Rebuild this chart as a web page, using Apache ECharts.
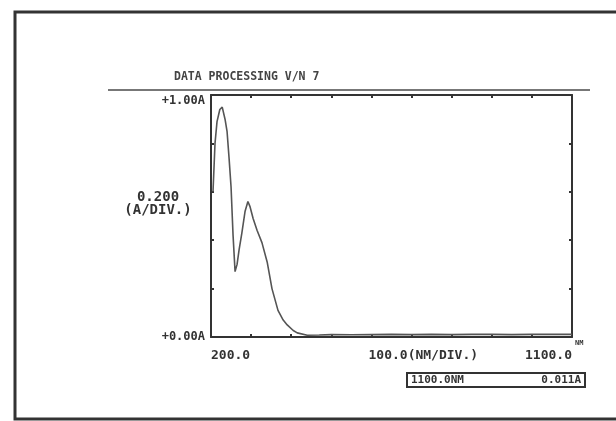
<!DOCTYPE html>
<html>
<head>
<meta charset="utf-8">
<script src="https://cdn.jsdelivr.net/npm/echarts@6/dist/echarts.min.js"></script>
<style>html,body{margin:0;padding:0;background:#fff;}#c{width:616px;height:421px;}</style>
</head>
<body>
<div id="c"></div>
<script>
// ---- data ----
const title = 'DATA PROCESSING V/N 7';
const wavelengthNm = [205, 210, 215, 222, 228, 235, 240, 245, 250, 255, 260, 265, 270, 277, 285, 292, 297, 305, 315, 327, 340, 352, 367, 380, 390, 405, 415, 440, 470, 500, 550, 600, 650, 700, 750, 800, 850, 900, 950, 1000, 1050, 1100];
const absorbance   = [0.60, 0.80, 0.89, 0.94, 0.95, 0.90, 0.85, 0.74, 0.62, 0.42, 0.27, 0.30, 0.36, 0.43, 0.52, 0.56, 0.54, 0.49, 0.44, 0.39, 0.31, 0.20, 0.11, 0.07, 0.05, 0.027, 0.017, 0.007, 0.008, 0.010, 0.009, 0.010, 0.011, 0.010, 0.011, 0.010, 0.011, 0.011, 0.010, 0.011, 0.011, 0.011];
const xTickLabels = {200: '200.0', 1100: '1100.0'};
const yTickLabels = {0: '+0.00A', 1: '+1.00A'};
const xScaleLabel = '100.0(NM/DIV.)';
const yScaleLabel = ['0.200', '(A/DIV.)'];
const xUnit = 'NM';
const readoutNm = '1100.0NM';
const readoutAbs = '0.011A';

const INK = '#333';
const FONT = '"DejaVu Sans Mono", "Liberation Mono", monospace';

const chart = echarts.init(document.getElementById('c'), null, {renderer: 'canvas'});
const seriesData = wavelengthNm.map((w, i) => [w, absorbance[i]]);

const tickStyle = {show: true, inside: true, length: 3, lineStyle: {color: INK, width: 2}};
const lineStyle = {color: INK, width: 2};

chart.setOption({
  animation: false,
  backgroundColor: '#ffffff',
  grid: {left: 211, top: 95, width: 361, height: 242, containLabel: false},
  xAxis: [{
    type: 'value', min: 200, max: 1100, interval: 100, position: 'bottom',
    axisLine: {show: true, onZero: false, lineStyle},
    axisTick: tickStyle,
    splitLine: {show: false},
    axisLabel: {
      show: true, margin: 12, color: INK, fontFamily: FONT, fontWeight: 'bold', fontSize: 13,
      alignMinLabel: 'left', alignMaxLabel: 'right',
      formatter: v => xTickLabels[v] || ''
    }
  }, {
    type: 'value', min: 200, max: 1100, interval: 100, position: 'top',
    axisLine: {show: true, onZero: false, lineStyle},
    axisTick: tickStyle, axisLabel: {show: false}, splitLine: {show: false}
  }],
  yAxis: [{
    type: 'value', min: 0, max: 1, interval: 0.2, position: 'left',
    axisLine: {show: true, onZero: false, lineStyle},
    axisTick: tickStyle,
    splitLine: {show: false},
    axisLabel: {
      show: true, margin: 6, color: INK, fontFamily: FONT, fontWeight: 'bold', fontSize: 12,
      verticalAlignMaxLabel: 'top',
      formatter: v => yTickLabels[Math.round(v * 100) / 100] || ''
    }
  }, {
    type: 'value', min: 0, max: 1, interval: 0.2, position: 'right',
    axisLine: {show: true, onZero: false, lineStyle},
    axisTick: tickStyle, axisLabel: {show: false}, splitLine: {show: false}
  }],
  series: [{
    type: 'line', data: seriesData, xAxisIndex: 0, yAxisIndex: 0,
    showSymbol: false, smooth: false,
    lineStyle: {color: '#555', width: 1.6}
  }]
});

// annotations placed relative to the axes
const pBot = chart.convertToPixel({xAxisIndex: 0, yAxisIndex: 0}, [1100, 0]);
const pTop = chart.convertToPixel({xAxisIndex: 0, yAxisIndex: 0}, [200, 1]);
const pMid = chart.convertToPixel({xAxisIndex: 0, yAxisIndex: 0}, [650, 0]);
const pYName = chart.convertToPixel({xAxisIndex: 0, yAxisIndex: 0}, [200, 0.55]);

chart.setOption({
  graphic: [
    // outer frame of the photographed sheet
    {type: 'rect', shape: {x: 15, y: 12, width: 700, height: 407}, style: {fill: 'none', stroke: INK, lineWidth: 3}, z: 10},
    // title and underline
    {type: 'text', x: 174, y: 71, style: {text: title, fill: '#444', font: 'bold 11.5px ' + FONT}, z: 10},
    {type: 'line', shape: {x1: 108, y1: pTop[1] - 5, x2: 590, y2: pTop[1] - 5}, style: {stroke: '#777', lineWidth: 2}, z: 10},
    // y scale label
    {type: 'text', x: pYName[0] - 53, y: pYName[1] - 13, style: {text: yScaleLabel.join('\n'), fill: INK, font: 'bold 14px ' + FONT, align: 'center', lineHeight: 13}, z: 10},
    // x scale label
    {type: 'text', x: pMid[0] - 23, y: pBot[1] + 12, style: {text: xScaleLabel, fill: INK, font: 'bold 13px ' + FONT}, z: 10},
    // unit "NM" over the end label
    {type: 'text', x: pBot[0] + 3, y: pBot[1] + 3, style: {text: xUnit, fill: INK, font: 'bold 7px ' + FONT}, z: 10},
    // readout box
    {type: 'rect', shape: {x: 407, y: 373, width: 178, height: 14}, style: {fill: '#fff', stroke: INK, lineWidth: 2}, z: 10},
    {type: 'text', x: 411, y: 375, style: {text: readoutNm, fill: INK, font: 'bold 11px ' + FONT}, z: 11},
    {type: 'text', x: 581, y: 375, style: {text: readoutAbs, fill: INK, font: 'bold 11px ' + FONT, align: 'right'}, z: 11}
  ]
});
</script>
</body>
</html>
